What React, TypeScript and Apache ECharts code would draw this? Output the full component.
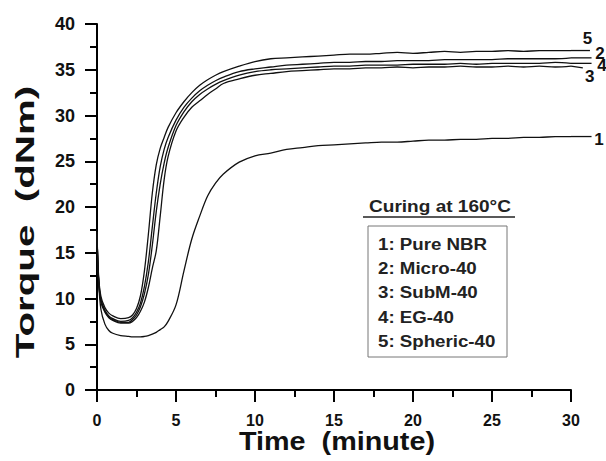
import React, { useEffect, useRef } from "react";
import * as echarts from "echarts";

// Time (minute)
const times = [0, 0.1, 0.25, 0.5, 0.75, 1, 1.5, 2, 2.25, 2.5, 2.75, 3, 3.25, 3.5, 3.75, 4, 4.25, 4.5, 5, 5.5, 6, 6.5, 7, 7.5, 8,
  9, 10, 11, 12, 13, 14, 15, 16, 17, 18, 19, 20, 21, 22, 23, 24, 25, 26, 27, 28, 29, 30];

// Torque (dNm)
const pureNBR = [17.0, 12.0, 8.8, 7.2, 6.5, 6.2, 5.95, 5.85, 5.8, 5.8, 5.8, 5.85, 5.95, 6.1, 6.3, 6.6, 6.9, 7.5, 9.3, 13.0, 16.5, 19.0, 21.2, 22.6, 23.6,
  24.9, 25.6, 25.9, 26.3, 26.5, 26.7, 26.8, 26.9, 27.0, 27.1, 27.1, 27.2, 27.3, 27.3, 27.4, 27.4, 27.5, 27.5, 27.6, 27.6, 27.7, 27.7];
const micro40 = [17.1, 12.2, 9.9, 8.7, 8.1, 7.8, 7.5, 7.6, 7.9, 8.5, 9.5, 11.3, 14.0, 17.8, 21.5, 24.4, 26.3, 27.6, 29.5, 30.9, 31.9, 32.7, 33.3, 33.8, 34.2,
  34.8, 35.1, 35.3, 35.5, 35.6, 35.7, 35.8, 35.8, 35.9, 35.9, 36.0, 36.0, 36.0, 36.1, 36.1, 36.1, 36.1, 36.2, 36.2, 36.2, 36.2, 36.3];
const subM40 = [17.0, 12.0, 9.6, 8.5, 7.9, 7.6, 7.3, 7.3, 7.5, 7.9, 8.6, 9.6, 11.2, 13.3, 15.2, 19.0, 23.0, 25.5, 28.3, 29.8, 30.9, 31.6, 32.3, 32.9, 33.5,
  34.0, 34.4, 34.6, 34.8, 34.9, 35.0, 35.1, 35.1, 35.2, 35.2, 35.3, 35.2, 35.3, 35.3, 35.4, 35.3, 35.3, 35.4, 35.3, 35.4, 35.3, 35.4];
const eg40 = [16.9, 12.0, 9.7, 8.6, 8.0, 7.7, 7.4, 7.4, 7.7, 8.2, 9.1, 10.5, 12.6, 15.8, 19.5, 22.5, 24.8, 26.5, 28.9, 30.4, 31.5, 32.3, 32.9, 33.4, 33.8,
  34.4, 34.8, 35.0, 35.1, 35.2, 35.3, 35.4, 35.4, 35.5, 35.5, 35.5, 35.6, 35.6, 35.6, 35.7, 35.6, 35.7, 35.7, 35.7, 35.7, 35.8, 35.7];
const spheric40 = [17.3, 12.5, 10.2, 9.0, 8.4, 8.1, 7.8, 7.9, 8.2, 8.9, 10.3, 13.0, 17.0, 21.5, 24.6, 26.4, 27.6, 28.7, 30.3, 31.5, 32.5, 33.3, 33.9, 34.4, 34.8,
  35.4, 35.9, 36.2, 36.3, 36.4, 36.5, 36.6, 36.7, 36.7, 36.8, 36.9, 36.8, 36.9, 37.0, 36.9, 37.0, 37.0, 37.1, 37.0, 37.1, 37.1, 37.1];

// leader-line tails past the axis end, toward the curve numbers
const tailTimes = [31.3, 31.3, 30.75, 31.3, 31.2];
const tailValues = [27.7, 36.3, 35.2, 35.7, 37.1];

const seriesNames = ["Pure NBR", "Micro-40", "SubM-40", "EG-40", "Spheric-40"];
const seriesValues = [pureNBR, micro40, subM40, eg40, spheric40];
const curveNumbers = ["1", "2", "3", "4", "5"];
const labelOffsets: [number, number][] = [[7.5, 2.5], [8.5, -4], [7, 8.5], [10.5, 1.7], [-2.5, -12]];

const xTicks = { min: 0, max: 30, interval: 5 };
const yTicks = { min: 0, max: 40, interval: 5 };

const FONT = '"Liberation Sans", Arial, Helvetica, sans-serif';
const INK = "#111";

export default function App() {
  const ref = useRef<HTMLDivElement>(null);
  useEffect(() => {
    document.body.style.margin = "0";
    const chart = echarts.init(ref.current!, null, { renderer: "svg" });
    const series = seriesValues.map((vals, i) => ({
      name: seriesNames[i],
      type: "line",
      data: times.map((t, j) => [t, vals[j]]),
      showSymbol: false,
      smooth: 0.35,
      silent: true,
      lineStyle: { color: INK, width: 1.3 },
    }));
    const legendLines = seriesNames.map((n, i) => `${curveNumbers[i]}: ${n}`);
    const tickStyle = { color: "#000", width: 2, type: "solid" };
    const baseGraphics: any[] = [
      {
        type: "text", x: 25, y: 222, rotation: Math.PI / 2, scaleX: 1.55,
        style: { text: "Torque  (dNm)", fontSize: 26, fontWeight: "bold", fontFamily: FONT, fill: INK, align: "center", verticalAlign: "middle" },
      },
      {
        type: "text", x: 337, y: 442, scaleX: 1.15,
        style: { text: "Time  (minute)", fontSize: 25, fontWeight: "bold", fontFamily: FONT, fill: INK, align: "center", verticalAlign: "middle" },
      },
      {
        type: "text", x: 440, y: 206, scaleX: 1.12,
        style: { text: "Curing at 160°C", fontSize: 17, fontWeight: "bold", fontFamily: FONT, fill: "#222", align: "center", verticalAlign: "middle" },
      },
      { type: "line", shape: { x1: 363, y1: 217, x2: 515, y2: 217 }, style: { stroke: "#222", lineWidth: 1.5 } },
      { type: "rect", shape: { x: 368, y: 226, width: 139, height: 131 }, style: { stroke: "#777", lineWidth: 1, fill: "#fff" } },
      ...legendLines.map((txt, i) => ({
        type: "text", x: 378, y: 244 + i * 24.3, scaleX: 1.1,
        style: { text: txt, fontSize: 17, fontWeight: "bold", fontFamily: FONT, fill: "#222", align: "left", verticalAlign: "middle" },
      })),
    ];
    chart.setOption({
      animation: false,
      backgroundColor: "#fff",
      grid: { left: 97, right: 35, top: 24, bottom: 71, containLabel: false },
      xAxis: {
        type: "value",
        ...xTicks,
        axisLine: { show: true, onZero: false, lineStyle: { color: "#000", width: 2 } },
        axisTick: { show: true, inside: false, length: 12, lineStyle: tickStyle },
        minorTick: { show: true, splitNumber: 2, length: 7, lineStyle: tickStyle },
        splitLine: { show: false },
        minorSplitLine: { show: false },
        axisLabel: { show: true, color: INK, fontSize: 16, fontWeight: "bold", fontFamily: FONT, margin: 22 },
      },
      yAxis: {
        type: "value",
        ...yTicks,
        axisLine: { show: true, lineStyle: { color: "#000", width: 2 } },
        axisTick: { show: true, inside: false, length: 12, lineStyle: tickStyle },
        minorTick: { show: true, splitNumber: 2, length: 7, lineStyle: tickStyle },
        splitLine: { show: false },
        minorSplitLine: { show: false },
        axisLabel: { show: true, color: INK, fontSize: 18, fontWeight: "bold", fontFamily: FONT, margin: 22 },
      },
      series,
      graphic: baseGraphics,
    });
    // tails and curve numbers placed through the chart's own scales
    const tailGraphics: any[] = [];
    seriesValues.forEach((vals, i) => {
      const start = chart.convertToPixel({ gridIndex: 0 }, [times[times.length - 1], vals[vals.length - 1]]) as number[];
      const end = chart.convertToPixel({ gridIndex: 0 }, [tailTimes[i], tailValues[i]]) as number[];
      tailGraphics.push({
        type: "line", silent: true,
        shape: { x1: start[0], y1: start[1], x2: end[0], y2: end[1] },
        style: { stroke: INK, lineWidth: 1.3 },
      });
      tailGraphics.push({
        type: "text", silent: true, x: end[0] + labelOffsets[i][0], y: end[1] + labelOffsets[i][1],
        style: { text: curveNumbers[i], fontSize: 17, fontWeight: "bold", fontFamily: FONT, fill: INK, align: "center", verticalAlign: "middle" },
      });
    });
    chart.setOption({ graphic: [...baseGraphics, ...tailGraphics] });
    return () => chart.dispose();
  }, []);
  return <div ref={ref} style={{ position: "absolute", left: 0, top: 0, width: 606, height: 461, background: "#fff" }} />;
}
